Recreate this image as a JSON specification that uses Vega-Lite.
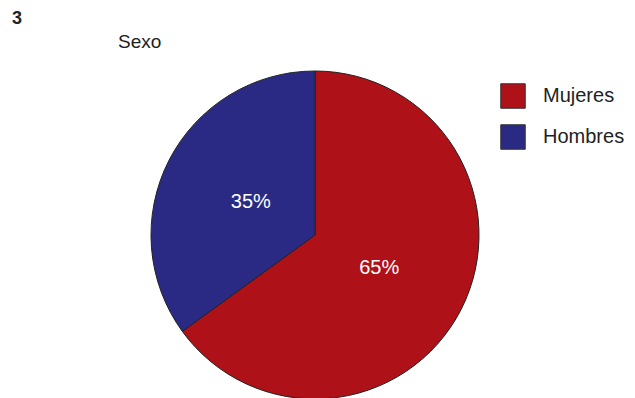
{
  "$schema": "https://vega.github.io/schema/vega-lite/v6.json",
  "padding": {"left": 0, "top": 10, "right": 5, "bottom": 0},
  "background": "white",
  "title": {"text": "3", "anchor": "start", "frame": "bounds", "dx": 12, "fontSize": 18, "fontWeight": "bold", "font": "Liberation Sans", "color": "#222222", "offset": 5},
  "spacing": 0,
  "vconcat": [
    {
      "width": 630,
      "height": 328,
      "title": {"text": "Sexo", "anchor": "start", "frame": "bounds", "dx": 118, "fontSize": 19, "fontWeight": "normal", "font": "Liberation Sans", "color": "#222222", "offset": 17},
      "data": {"values": [
        {"sexo": "Mujeres", "pct": 65, "label": "65%"},
        {"sexo": "Hombres", "pct": 35, "label": "35%"}
      ]},
      "encoding": {
        "theta": {"field": "pct", "type": "quantitative", "stack": true},
        "order": {"field": "pct", "sort": "descending"}
      },
      "layer": [
        {
          "mark": {"type": "arc", "stroke": "#222222", "strokeWidth": 1},
          "encoding": {
            "color": {
              "field": "sexo", "type": "nominal",
              "scale": {"domain": ["Mujeres", "Hombres"], "range": ["#AE1118", "#2A2A84"]},
              "legend": {
                "title": null, "orient": "none", "legendX": 500, "legendY": 12,
                "symbolType": "square", "symbolSize": 600, "symbolOpacity": 1,
                "symbolStrokeColor": "#333333", "symbolStrokeWidth": 1,
                "labelFont": "Liberation Sans", "labelFontSize": 20, "labelColor": "#222222",
                "labelOffset": 17, "rowPadding": 11
              }
            }
          }
        },
        {
          "mark": {"type": "text", "radius": 72, "fontSize": 20, "color": "white", "font": "Liberation Sans"},
          "encoding": {"text": {"field": "label", "type": "nominal"}}
        }
      ]
    }
  ],
  "config": {"view": {"stroke": null}}
}
